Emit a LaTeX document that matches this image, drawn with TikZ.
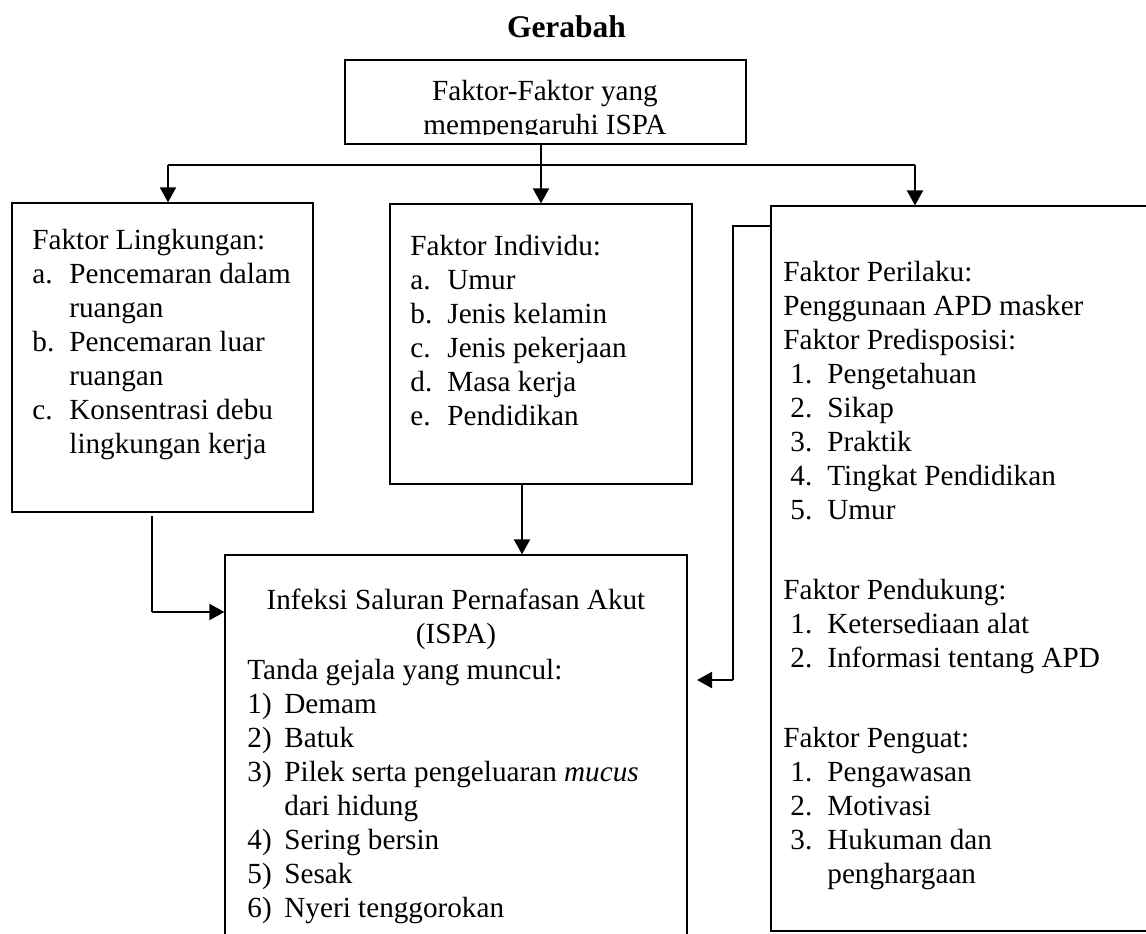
\documentclass[tikz,border=0pt]{standalone}
\usepackage{fontspec}
\setmainfont{Liberation Serif}
\usetikzlibrary{arrows.meta,fit}
\newcommand\lbl[1]{\makebox[18.5pt][l]{#1}}
\newcommand\ind{\hspace*{18.5pt}}
\begin{document}
\begin{tikzpicture}[x=0.5pt,y=-0.5pt,
 box/.style={draw=black,line width=0.65pt,inner sep=0pt},
 conn/.style={draw=black,line width=0.6pt},
 arr/.style={draw=black,line width=1.1pt,-{Triangle[length=7.5pt,width=8pt]}},
 txt/.style={inner sep=0pt,anchor=base west,font=\fontsize{14.6}{17}\selectfont},
]
\useasboundingbox (0,0) rectangle (1146,933);
\node[font=\bfseries\fontsize{15.75}{18}\selectfont, anchor=base, inner sep=0pt] (title) at (566.5,37.3) {Gerabah};
\node[box,fit={(345,60) (746,144)}] (top) {};
\begin{scope}
\clip (345,60) rectangle (746,134.5);
\node[txt,anchor=base] (toptxt) at (545,100) {\begin{tabular}[t]{@{}c@{}}Faktor-Faktor yang\\mempengaruhi ISPA\end{tabular}};
\end{scope}
\node[box,fit={(12,203) (313,512)}] (env) {};
\node[box,fit={(390,204) (692,484)}] (ind) {};
\node[box,fit={(771,206) (1152,931)}] (beh) {};
\node[box,fit={(225,555) (687,945)}] (ispa) {};
% connectors
\coordinate (hl) at (168,165);
\coordinate (hm) at (541,165);
\coordinate (hr) at (915,165);
\draw[conn] (top.south -| hm) -- (hm);
\draw[conn] (hl) -- (hr);
\draw[arr] (hl) -- (hl |- env.north);
\draw[arr] (hm) -- (hm |- ind.north);
\draw[arr] (hr) -- (hr |- beh.north);
\coordinate (mx) at (522,0);
\draw[arr] (ind.south -| mx) -- (ispa.north -| mx);
\coordinate (l1) at (152,516);
\coordinate (l2) at (152,612);
\draw[conn] (l1) -- (l2);
\draw[arr] (l2) -- (ispa.west |- l2);
\coordinate (r1) at (733,226);
\coordinate (r2) at (733,680);
\coordinate (rt) at (697,680);
\draw[conn] (beh.west |- r1) -- (r1) -- (r2);
\draw[arr] (r2) -- (rt);
% texts
\node[txt] (envt) at (32,249) {\begin{tabular}[t]{@{}l@{}}Faktor Lingkungan:\\
\lbl{a.}Pencemaran dalam\\
\ind ruangan\\
\lbl{b.}Pencemaran luar\\
\ind ruangan\\
\lbl{c.}Konsentrasi debu\\
\ind lingkungan kerja\end{tabular}};
\node[txt] (indt) at (410,255) {\begin{tabular}[t]{@{}l@{}}Faktor Individu:\\
\lbl{a.}Umur\\
\lbl{b.}Jenis kelamin\\
\lbl{c.}Jenis pekerjaan\\
\lbl{d.}Masa kerja\\
\lbl{e.}Pendidikan\end{tabular}};
\node[txt] (beht) at (783,281) {\begin{tabular}[t]{@{}l@{}}Faktor Perilaku:\\
Penggunaan APD masker\\
Faktor Predisposisi:\\
\hspace*{3.5pt}\lbl{1.}Pengetahuan\\
\hspace*{3.5pt}\lbl{2.}Sikap\\
\hspace*{3.5pt}\lbl{3.}Praktik\\
\hspace*{3.5pt}\lbl{4.}Tingkat Pendidikan\\
\hspace*{3.5pt}\lbl{5.}Umur\\[6pt]
\\
Faktor Pendukung:\\
\hspace*{3.5pt}\lbl{1.}Ketersediaan alat\\
\hspace*{3.5pt}\lbl{2.}Informasi tentang APD\\[6pt]
\\
Faktor Penguat:\\
\hspace*{3.5pt}\lbl{1.}Pengawasan\\
\hspace*{3.5pt}\lbl{2.}Motivasi\\
\hspace*{3.5pt}\lbl{3.}Hukuman dan\\
\hspace*{3.5pt}\ind penghargaan\end{tabular}};
\node[txt,anchor=base] (ispah) at (456,609) {\begin{tabular}[t]{@{}c@{}}Infeksi Saluran Pernafasan Akut\\(ISPA)\end{tabular}};
\node[txt] (ispat) at (247,679) {\begin{tabular}[t]{@{}l@{}}Tanda gejala yang muncul:\\
\lbl{1)}Demam\\
\lbl{2)}Batuk\\
\lbl{3)}Pilek serta pengeluaran \textit{mucus}\\
\ind dari hidung\\
\lbl{4)}Sering bersin\\
\lbl{5)}Sesak\\
\lbl{6)}Nyeri tenggorokan\end{tabular}};
\end{tikzpicture}
\end{document}
